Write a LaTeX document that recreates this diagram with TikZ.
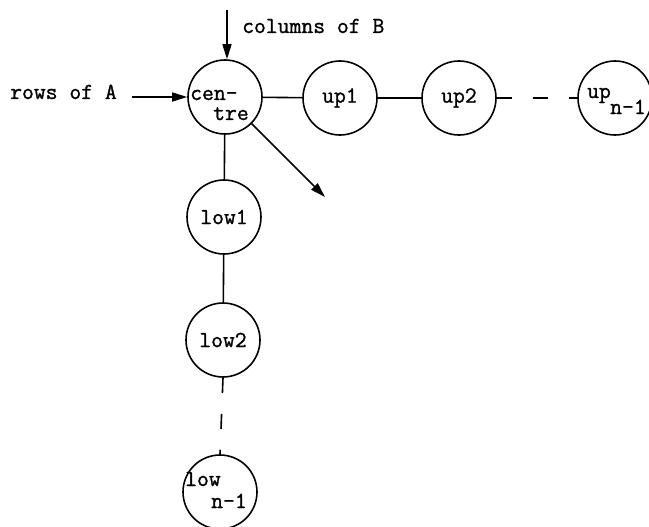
\documentclass[tikz,border=0pt]{standalone}
\usepackage{fontspec}
\newfontfamily\tw{Latin Modern Mono}[FakeBold=1.2]
\usetikzlibrary{arrows.meta}
\begin{document}
\begin{tikzpicture}[x=1pt,y=-1pt,
  every node/.style={font=\tw\fontsize{23}{25}\selectfont},
  txt/.style={inner sep=0pt,anchor=base west},
  proc/.style={circle,draw,line width=1.6pt,minimum size=74pt,inner sep=0pt},
  conn/.style={line width=1.6pt},
  dots/.style={line width=1.6pt,dash pattern=on 15pt off 21pt},
  arr/.style={line width=1.6pt,-{Triangle[length=15pt,width=9pt]}}]
\useasboundingbox (0,0) rectangle (649,527);
\node[proc] (centre) at (225,97) {};
\node[txt] (ctxt1) at (190,100) {cen-};
\node[txt] (ctxt2) at (213,120) {tre};
\node[proc] (up1) at (340,98) {up1};
\node[proc] (up2) at (459,98) {up2};
\node[proc] (upn) at (615,98) {};
\node[txt] (upntxt1) at (587,98) {up};
\node[txt] (upntxt2) at (610,114) {n-1};
\node[proc] (low1) at (224,217) {low1};
\node[proc] (low2) at (223,340) {low2};
\node[proc] (lown) at (220,492) {};
\node[txt] (lowntxt1) at (185,486) {low};
\node[txt] (lowntxt2) at (211,508) {n-1};
\node[txt] (colB) at (242,33) {columns of B};
\node[txt] (rowA) at (10,99) {rows of A};
\coordinate (colstart) at (227,10);
\coordinate (rowstart) at (132,97);
\coordinate (diagend) at (325,197);
\draw[arr] (colstart) -- (colstart |- centre.north);
\draw[arr] (rowstart) -- (centre.west);
\draw[arr] (centre.-45) -- (diagend);
\draw[conn] (centre) -- (up1);
\draw[conn] (up1) -- (up2);
\draw[dots] (up2.east) -- (upn.west);
\draw[conn] (centre) -- (low1);
\draw[conn] (low1) -- (low2);
\draw[dots] (low2.south) -- (lown.north);
\end{tikzpicture}
\end{document}
